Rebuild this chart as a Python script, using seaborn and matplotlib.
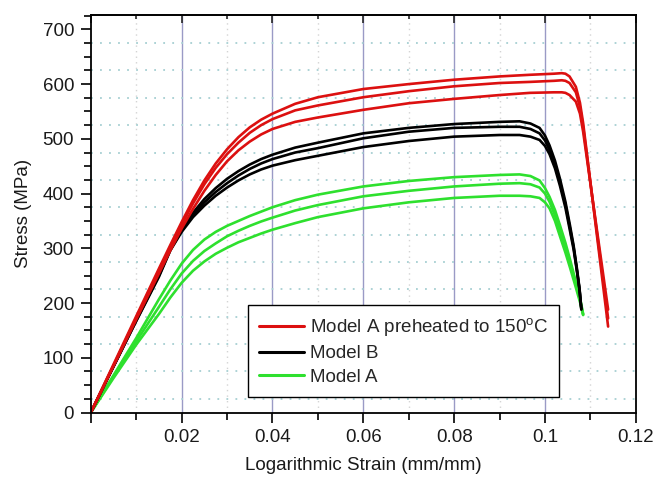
"""
Stress-strain curves: Model A, Model B and Model A preheated to 150 C.
Three tensile runs per model, values read off the reference figure.
"""
import matplotlib

matplotlib.use("Agg")
import matplotlib.pyplot as plt
import pandas as pd
import seaborn as sns
from matplotlib.ticker import FixedLocator, MultipleLocator

# Model A preheated to 150 C (red)
strain_red = [0, 0.005, 0.01, 0.015, 0.0175, 0.02, 0.0225, 0.025, 0.0275, 0.03,
              0.0325, 0.035, 0.0375, 0.04, 0.045, 0.05, 0.06, 0.07, 0.08, 0.09,
              0.0967, 0.102, 0.1037, 0.1045, 0.1054, 0.1068, 0.1077, 0.1084, 0.1139]
red_run1 = [0, 88, 176, 263, 306, 348, 388, 424, 455, 481,
            503, 521, 535, 546, 564, 576, 591, 600, 608, 614,
            617, 619, 620, 619, 614, 595, 566, 529, 157]
red_run2 = [0, 86, 173, 259, 302, 343, 382, 417, 447, 472,
            493, 511, 525, 536, 552, 561, 576, 587, 596, 602,
            604, 606, 607, 606, 602, 585, 558, 522, 172]
red_run3 = [0, 85, 170, 254, 296, 336, 372, 405, 434, 459,
            479, 495, 508, 518, 531, 539, 553, 565, 573, 580,
            584, 585, 585, 584, 580, 568, 546, 513, 188]

# Model B (black)
strain_black = [0, 0.005, 0.01, 0.015, 0.0175, 0.02, 0.0225, 0.025, 0.0275, 0.03,
                0.0325, 0.035, 0.0375, 0.04, 0.045, 0.05, 0.06, 0.07, 0.08, 0.09,
                0.0944, 0.0968, 0.0988, 0.1, 0.101, 0.1022, 0.1033, 0.1045, 0.1055,
                0.1063, 0.107, 0.1076, 0.108]
black_run1 = [0, 85, 170, 253, 300, 335, 365, 390, 410, 427,
              441, 453, 463, 471, 484, 493, 510, 520, 527, 531,
              532, 528, 520, 506, 488, 460, 427, 385, 342,
              305, 265, 227, 190]
black_run2 = [0, 84, 168, 250, 297, 332, 361, 384, 403, 419,
              433, 445, 455, 463, 475, 483, 501, 513, 520, 522,
              522, 518, 510, 497, 480, 452, 420, 380, 337,
              302, 262, 225, 189]
black_run3 = [0, 84, 167, 248, 296, 330, 357, 378, 396, 411,
              424, 435, 444, 451, 461, 469, 485, 496, 504, 507,
              507, 504, 498, 487, 472, 446, 414, 374, 332,
              298, 260, 224, 188]

# Model A (green)
strain_green = [0, 0.005, 0.01, 0.015, 0.0175, 0.02, 0.0225, 0.025, 0.0275, 0.03,
                0.0325, 0.035, 0.0375, 0.04, 0.045, 0.05, 0.06, 0.07, 0.08, 0.09,
                0.0944, 0.0968, 0.0988, 0.1, 0.101, 0.1022, 0.1033, 0.1045, 0.1055,
                0.1066, 0.1077, 0.1084]
green_run1 = [0, 68, 136, 207, 241, 272, 297, 316, 330, 341,
              350, 359, 367, 375, 388, 398, 413, 423, 430, 434,
              435, 432, 424, 410, 394, 370, 342, 310, 280,
              245, 210, 180]
green_run2 = [0, 66, 130, 193, 225, 254, 277, 295, 309, 322,
              332, 341, 349, 356, 369, 379, 395, 405, 413, 418,
              419, 417, 411, 400, 385, 360, 332, 300, 272,
              240, 206, 179]
green_run3 = [0, 63, 124, 180, 210, 237, 259, 276, 290, 301,
              311, 319, 327, 334, 346, 357, 373, 384, 392, 396,
              396, 395, 392, 384, 373, 350, 322, 292, 265,
              234, 202, 178]

legend_labels = ["Model A preheated to 150$^{\\mathrm{o}}$C", "Model B", "Model A"]
x_ticks = [0, 0.02, 0.04, 0.06, 0.08, 0.1, 0.12]
x_tick_labels = ["", "0.02", "0.04", "0.06", "0.08", "0.1", "0.12"]


def to_long(strain, runs):
    frames = []
    for i, stress in enumerate(runs):
        frames.append(pd.DataFrame({"strain": strain, "stress": stress, "run": i}))
    return pd.concat(frames, ignore_index=True)


groups = [
    # drawn in this order: green at the bottom, red on top
    ("Model A", to_long(strain_green, [green_run1, green_run2, green_run3]), "#2ee02e"),
    ("Model B", to_long(strain_black, [black_run1, black_run2, black_run3]), "#000000"),
    (legend_labels[0], to_long(strain_red, [red_run1, red_run2, red_run3]), "#dc1010"),
]

sns.set_theme(style="white")
plt.rcParams["font.family"] = ["Liberation Sans", "DejaVu Sans"]
plt.rcParams["mathtext.fontset"] = "custom"
plt.rcParams["mathtext.rm"] = "Liberation Sans"
plt.rcParams["mathtext.it"] = "Liberation Sans:italic"

fig = plt.figure(figsize=(6.63, 4.88), dpi=100)
ax = fig.add_axes([0.137, 0.1547, 0.822, 0.8143])

# grid: solid at major x, dotted at odd 0.01 and every 50 offset by 25 in y
for v in [0.02, 0.04, 0.06, 0.08, 0.1]:
    ax.axvline(v, color="#9a9ac6", lw=1.0, zorder=0)
for v in [0.01, 0.03, 0.05, 0.07, 0.09, 0.11]:
    ax.axvline(v, color="#d4d4d4", lw=1.0, ls=(0, (1, 3)), zorder=0)
for h in range(25, 700, 50):
    ax.axhline(h, color="#a6cfd2", lw=1.3, ls=(0, (1, 4)), zorder=0)

for name, df, color in groups:
    sns.lineplot(data=df, x="strain", y="stress", units="run", estimator=None,
                 color=color, lw=1.9, ax=ax, label=name, legend=False)

ax.set_xlim(0, 0.12)
ax.set_ylim(0, 726)

ax.xaxis.set_major_locator(FixedLocator(x_ticks))
ax.set_xticklabels(x_tick_labels)
ax.xaxis.set_minor_locator(MultipleLocator(0.01))
ax.yaxis.set_major_locator(MultipleLocator(100))
ax.yaxis.set_minor_locator(MultipleLocator(25))

ax.tick_params(axis="both", which="major", direction="out", length=7, width=1.2,
               labelsize=13.5, pad=5, color="black", labelcolor="#1a1a1a")
ax.tick_params(axis="both", which="minor", direction="out", length=5, width=1.2, color="black")
ax.tick_params(axis="x", which="both", bottom=True, top=False)
ax.tick_params(axis="y", which="both", left=True, right=False)

# short inward ticks hanging from the top spine
top = ax.secondary_xaxis("top")
top.xaxis.set_major_locator(FixedLocator(x_ticks))
top.xaxis.set_minor_locator(MultipleLocator(0.01))
top.tick_params(which="major", direction="in", length=6, width=1.2, labeltop=False)
top.tick_params(which="minor", direction="in", length=3, width=1.2)
top.spines["top"].set_linewidth(1.3)

for s in ax.spines.values():
    s.set_color("black")
    s.set_linewidth(1.3)

ax.set_xlabel("Logarithmic Strain (mm/mm)", fontsize=13.5, color="#1a1a1a", labelpad=8)
ax.set_ylabel("Stress (MPa)", fontsize=13.5, color="#1a1a1a", labelpad=8)

# legend in the order red, black, green with unique entries
handles, labels = ax.get_legend_handles_labels()
by_label = dict(zip(labels, handles))
leg = ax.legend([by_label[l] for l in legend_labels], legend_labels,
                loc="lower left", bbox_to_anchor=(0.288, 0.039), fontsize=13.5,
                frameon=True, fancybox=False, framealpha=1, edgecolor="black",
                borderpad=0.6, handlelength=2.4, handletextpad=0.3, labelspacing=0.35,
                borderaxespad=0)
leg.get_frame().set_linewidth(1.0)
for line in leg.get_lines():
    line.set_linewidth(2.2)

fig.savefig("out.png", dpi=100)
